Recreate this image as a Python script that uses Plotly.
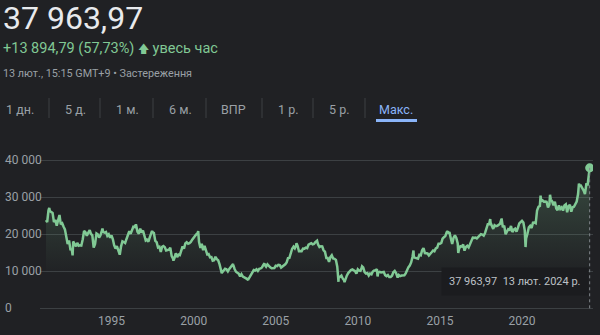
import plotly.graph_objects as go
import pandas as pd

# ---------------- data ----------------
monthly_closes = [
    # 1991
    23293, 26409, 26292, 26111, 25790, 23291, 23900, 22336, 23916, 25222, 22687, 22984,
    # 1992
    22023, 21338, 19346, 17391, 18348, 15951, 15910, 18061, 17399, 16767, 17684, 16925,
    # 1993
    17024, 16953, 18591, 20919, 20552, 19590, 20380, 21027, 20106, 19703, 16408, 17417,
    # 1994
    20229, 19997, 19112, 19725, 20974, 20644, 20449, 20629, 19564, 19990, 19076, 19723,
    # 1995
    18650, 17053, 16140, 16807, 15437, 14517, 16678, 18117, 17913, 17655, 18744, 19868,
    # 1996
    20813, 20125, 21407, 22041, 21956, 22531, 20693, 20167, 21556, 20467, 21020, 19361,
    # 1997
    18330, 18557, 18003, 19151, 20068, 20604, 20331, 18229, 17887, 16458, 16636, 15258,
    # 1998
    16628, 16831, 16527, 15641, 15671, 15830, 16379, 14108, 13406, 13565, 14883, 13842,
    # 1999
    14499, 14368, 15837, 16702, 16112, 17530, 17862, 17437, 17605, 17942, 18558, 18934,
    # 2000
    19540, 19960, 20337, 17974, 16332, 17411, 15727, 16861, 15747, 14539, 14649, 13786,
    # 2001
    13843, 12883, 12999, 13934, 13262, 12969, 11860, 10714, 9775, 10367, 10697, 10543,
    # 2002
    9998, 10588, 11025, 11493, 11764, 10622, 9878, 9619, 9383, 8640, 9216, 8579,
    # 2003
    8340, 8363, 7973, 7831, 8425, 9083, 9563, 10344, 10219, 10560, 10101, 10677,
    # 2004
    10784, 11042, 11715, 11762, 11236, 11859, 11326, 11082, 10824, 10771, 10899, 11489,
    # 2005
    11388, 11741, 11669, 11009, 11277, 11584, 11900, 12414, 13574, 13607, 14872, 16111,
    # 2006
    16650, 16205, 17060, 16906, 15468, 15505, 15457, 16141, 16128, 16399, 16274, 17226,
    # 2007
    17383, 17604, 17288, 17400, 17876, 18138, 17249, 16569, 16786, 16738, 15681, 15308,
    # 2008
    13592, 13603, 12526, 13850, 14338, 13481, 13377, 13073, 11260, 8577, 8512, 8860,
    # 2009
    7994, 7568, 8110, 8828, 9523, 9958, 10357, 10493, 10133, 10035, 9345, 10546,
    # 2010
    10198, 10126, 11090, 11057, 9769, 9383, 9537, 8824, 9369, 9202, 9937, 10229,
    # 2011
    10238, 10624, 9755, 9850, 9694, 9816, 9833, 8955, 8700, 8988, 8435, 8455,
    # 2012
    8803, 9723, 10084, 9521, 8543, 9007, 8695, 8840, 8870, 8928, 9446, 10395,
    # 2013
    11139, 11559, 12398, 13861, 13775, 13677, 13668, 13389, 14456, 14328, 15662, 16291,
    # 2014
    14915, 14841, 14828, 14304, 14632, 15162, 15621, 15425, 16174, 16414, 17460, 17451,
    # 2015
    17674, 18798, 19207, 19520, 20563, 20236, 20585, 18890, 17388, 19083, 19747, 19034,
    # 2016
    17518, 16027, 16759, 16666, 17235, 15576, 16569, 16887, 16450, 17425, 18308, 19114,
    # 2017
    19041, 19119, 18909, 19197, 19651, 20033, 19925, 19646, 20356, 22012, 22725, 22765,
    # 2018
    23098, 22068, 21454, 22468, 22202, 22305, 22554, 22865, 24120, 21920, 22351, 20015,
    # 2019
    20773, 21385, 21206, 22259, 20601, 21276, 21522, 20704, 21756, 22927, 23294, 23657,
    # 2020
    23205, 21143, 18917, 20194, 21878, 22288, 21710, 23140, 23185, 22977, 26434, 27444,
    # 2021
    27663, 28966, 29179, 28813, 28860, 28792, 27284, 28090, 29453, 28893, 27822, 28792,
    # 2022
    27002, 26527, 27821, 26848, 27280, 26393, 27802, 28092, 25937, 27587, 27969, 26095,
    # 2023
    27327, 27446, 28041, 28856, 30888, 33189, 33172, 32619, 31858, 30859, 33487, 33464,
    # 2024
    36287,
]
monthly_dates = pd.date_range("1991-01-31", periods=len(monthly_closes), freq="ME")

extra_dates = [
    "1991-01-04", "1991-03-18", "1992-08-18", "1993-09-03", "1994-06-13", "1995-07-03",
    "1996-06-26", "1997-06-20", "1998-10-09", "2000-04-12", "2001-09-17", "2002-05-27",
    "2003-04-28", "2004-04-26", "2006-04-07", "2007-07-09", "2008-10-27", "2009-03-10",
    "2010-04-05", "2011-03-15", "2012-06-04", "2013-05-22", "2015-06-24", "2016-02-12",
    "2018-01-23", "2018-10-02", "2020-03-19", "2021-02-16", "2021-09-14", "2023-06-19",
    "2024-02-13",
]
extra_values = [
    23827, 27146, 14309, 21148, 21552, 14485,
    22666, 20910, 12880, 20833, 9504, 11979,
    7608, 12163, 17563, 18262, 7163, 7055,
    11339, 8605, 8295, 15627, 20868, 14952,
    24124, 24270, 16553, 30468, 30670, 33706,
    37964,
]

y_ticks = [0, 10000, 20000, 30000, 40000]
y_tick_labels = ["0", "10 000", "20 000", "30 000", "40 000"]
x_tick_years = [1995, 2000, 2005, 2010, 2015, 2020]
tabs = ["1 дн.", "5 д.", "1 м.", "6 м.", "ВПР", "1 р.", "5 р.", "Макс."]

last_value_text = "37 963,97"
change_text = "+13 894,79 (57,73%)"
period_text = "увесь час"
timestamp_text = "13 лют., 15:15 GMT+9 • Застереження"
tooltip_text = "37 963,97  13 лют. 2024 р."

# ---------------- build series ----------------
s = pd.concat([
    pd.Series(monthly_closes, index=monthly_dates),
    pd.Series(extra_values, index=pd.to_datetime(extra_dates)),
]).sort_index()
dates = s.index
values = s.values

# ---------------- layout helpers ----------------
W, H = 600, 335
L, R, T, B = 40, 593, 152, 312
def px(x):
    return (x - L) / (R - L)
def py(y):
    return (B - y) / (B - T)

BG = "#202124"
GREEN = "#81c995"
GRID = "#3c4043"
GRAY = "#9aa0a6"
FONT = "Roboto"

fig = go.Figure()
fig.add_trace(go.Scatter(
    x=dates, y=values, mode="lines",
    line=dict(color=GREEN, width=2.5),
    fill="tozeroy",
    fillgradient=dict(type="vertical", start=9000, stop=38000,
                      colorscale=[[0, "rgba(129,201,149,0)"], [1, "rgba(129,201,149,0.25)"]]),
    hoverinfo="skip", showlegend=False,
))
fig.add_trace(go.Scatter(
    x=[dates[-1]], y=[values[-1]], mode="markers",
    marker=dict(color=GREEN, size=9),
    hoverinfo="skip", showlegend=False,
))

annotations = []
shapes = []

# y tick labels (left aligned)
for v, t in zip(y_ticks, y_tick_labels):
    annotations.append(dict(x=px(3), xref="paper", y=v, yref="y", text=t,
                            showarrow=False, xanchor="left", yanchor="middle",
                            font=dict(family=FONT, size=12, color=GRAY)))

# header
annotations.append(dict(x=px(1), y=py(18), xref="paper", yref="paper", text=last_value_text,
                        showarrow=False, xanchor="left", yanchor="middle",
                        font=dict(family=FONT, size=32, color="#e8eaed")))
annotations.append(dict(x=px(1), y=py(48), xref="paper", yref="paper",
                        text=(f"{change_text} <span style='font-family:DejaVu Sans;font-size:11px'>🡅</span>"
                              f" {period_text}"),
                        showarrow=False, xanchor="left", yanchor="middle",
                        font=dict(family=FONT, size=14.5, color=GREEN)))
annotations.append(dict(x=px(1), y=py(73), xref="paper", yref="paper", text=timestamp_text,
                        showarrow=False, xanchor="left", yanchor="middle",
                        font=dict(family=FONT, size=10.8, color=GRAY)))

# tabs
tab_centers = [20, 75, 127, 180, 234, 288, 339, 396]
sep_x = [49, 100, 153, 206, 262, 313, 365]
for i, (t, c) in enumerate(zip(tabs, tab_centers)):
    col = "#8ab4f8" if i == len(tabs) - 1 else GRAY
    annotations.append(dict(x=px(c), y=py(109), xref="paper", yref="paper", text=t,
                            showarrow=False, xanchor="center", yanchor="middle",
                            font=dict(family=FONT, size=12.5, color=col)))
for sx in sep_x:
    shapes.append(dict(type="line", xref="paper", yref="paper",
                       x0=px(sx), x1=px(sx), y0=py(98), y1=py(118),
                       line=dict(color=GRID, width=1)))
shapes.append(dict(type="rect", xref="paper", yref="paper",
                   x0=px(376), x1=px(417), y0=py(122), y1=py(119),
                   fillcolor="#8ab4f8", line=dict(width=0)))

# dotted crosshair at last point
shapes.append(dict(type="line", xref="x", yref="y", x0=dates[-1], x1=dates[-1],
                   y0=0, y1=values[-1], line=dict(color="#80868b", width=1, dash="dot")))

# tooltip
annotations.append(dict(x=px(589), y=py(281.5), xref="paper", yref="paper", text=tooltip_text,
                        showarrow=False, xanchor="right", yanchor="middle",
                        bgcolor="#1b1c1f", borderpad=7,
                        font=dict(family=FONT, size=11, color="#bdc1c6")))

fig.update_layout(
    width=W, height=H,
    margin=dict(l=L, r=W - R, t=T, b=H - B),
    paper_bgcolor=BG, plot_bgcolor=BG,
    font=dict(family=FONT, color=GRAY),
    annotations=annotations, shapes=shapes,
    xaxis=dict(type="date", range=["1990-08-24", "2024-04-27"],
               tickvals=[pd.Timestamp(f"{y}-01-01") for y in x_tick_years],
               ticktext=[str(y) for y in x_tick_years],
               showgrid=False, zeroline=False, showline=False, ticks="",
               tickfont=dict(family=FONT, size=12, color=GRAY), fixedrange=True),
    yaxis=dict(range=[-1000, 42243], tickvals=y_ticks, showticklabels=False,
               showgrid=True, gridcolor=GRID, gridwidth=1, zeroline=False,
               showline=False, ticks="", fixedrange=True),
    hovermode=False,
)

fig.write_html("out.html", config={"displayModeBar": False})
